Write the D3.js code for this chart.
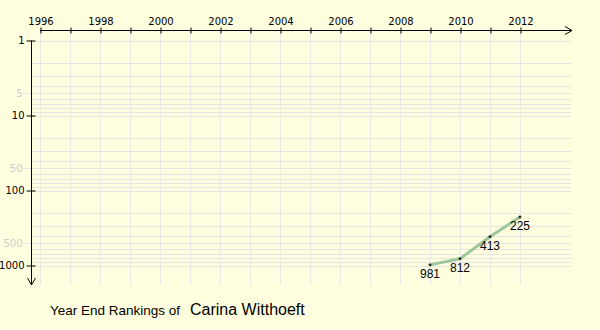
<!DOCTYPE html>
<html><head><meta charset="utf-8">
<script src="https://cdn.jsdelivr.net/npm/d3@7"></script>
<style>
html,body{margin:0;padding:0;background:#ffffe0;}
svg{display:block;}
</style></head>
<body>
<svg id="chart" width="600" height="330"></svg>
<script>
const years = [2009, 2010, 2011, 2012];
const ranks = [981, 812, 413, 225];
const axisYears = d3.range(1996, 2013);
const majorRanks = [1, 10, 100, 1000];
const minorLabelRanks = [5, 50, 500];
const playerName = "Carina Witthoeft";
const titlePrefix = "Year End Rankings of";

const svg = d3.select("#chart");
svg.append("rect").attr("width", 600).attr("height", 330).attr("fill", "#ffffe0");

const x = d3.scaleLinear().domain([1996, 2012]).range([40, 520]);
const y = d3.scaleLog().domain([1, 1000]).range([40.5, 265.5]);

const gridColor = "#e6e4e6";
// horizontal grid
const gridRanks = [];
[1, 10, 100].forEach(b => { for (let m = 1; m <= 9; m++) gridRanks.push(b * m); });
gridRanks.push(1000);
svg.append("g").selectAll("line").data(gridRanks).join("line")
  .attr("x1", d => minorLabelRanks.includes(d) ? 23 : 31)
  .attr("x2", 571)
  .attr("y1", d => Math.round(y(d)) + 0.5)
  .attr("y2", d => Math.round(y(d)) + 0.5)
  .attr("stroke", gridColor).attr("stroke-width", 1);
// vertical grid
svg.append("g").selectAll("line").data(axisYears).join("line")
  .attr("x1", d => x(d) + 0.5).attr("x2", d => x(d) + 0.5)
  .attr("y1", 30).attr("y2", 285)
  .attr("stroke", "#ebe9e6").attr("stroke-width", 1);

// top axis
const topAxis = d3.axisTop(x).tickValues(axisYears)
  .tickFormat(d => d % 2 === 0 ? String(d) : "")
  .tickSizeInner(3).tickSizeOuter(0).tickPadding(4);
const gTop = svg.append("g").attr("transform", "translate(0.5,30.5)").call(topAxis);
gTop.select(".domain").remove();
gTop.selectAll(".tick line").attr("y1", 3).attr("y2", -3).attr("stroke", "#000");
gTop.selectAll(".tick text").attr("font-family", "DejaVu Sans, Verdana, sans-serif")
  .attr("font-size", 10).attr("fill", "#000").attr("dy", 0).attr("y", -6);
svg.append("line").attr("x1", 40).attr("x2", 572).attr("y1", 30.5).attr("y2", 30.5)
  .attr("stroke", "#000").attr("stroke-width", 1);
svg.append("polyline").attr("points", "565,26.5 572,30.5 565,34.5")
  .attr("fill", "none").attr("stroke", "#000");

// left axis
const leftAxis = d3.axisLeft(y).tickValues(majorRanks).tickFormat(d3.format("d"))
  .tickSizeInner(5).tickSizeOuter(0).tickPadding(2);
const gLeft = svg.append("g").attr("transform", "translate(31.5,0)").call(leftAxis);
gLeft.select(".domain").remove();
gLeft.selectAll(".tick line").attr("x1", 4).attr("x2", -5).attr("stroke", "#000");
gLeft.selectAll(".tick text").attr("font-family", "DejaVu Sans, Verdana, sans-serif")
  .attr("font-size", 10).attr("fill", "#000").attr("x", -7);
const gMinor = svg.append("g").attr("transform", "translate(31.5,0)").call(
  d3.axisLeft(y).tickValues(minorLabelRanks).tickFormat(d3.format("d")).tickSize(0).tickPadding(9));
gMinor.select(".domain").remove();
gMinor.selectAll(".tick text").attr("font-family", "DejaVu Sans, Verdana, sans-serif")
  .attr("font-size", 10).attr("fill", "#cccccc");
svg.append("line").attr("x1", 31.5).attr("x2", 31.5).attr("y1", 40.5).attr("y2", 285)
  .attr("stroke", "#000");
svg.append("polyline").attr("points", "27.5,278 31.5,285 35.5,278")
  .attr("fill", "none").attr("stroke", "#000");

// data line
const pts = years.map((yr, i) => [yr, ranks[i]]);
svg.append("path").datum(pts)
  .attr("d", d3.line().x(d => x(d[0])).y(d => y(d[1])))
  .attr("fill", "none").attr("stroke", "#9cc89c").attr("stroke-width", 3)
  .attr("stroke-linejoin", "round");
const ptG = svg.append("g").selectAll("g").data(pts).join("g")
  .attr("transform", d => `translate(${x(d[0])},${y(d[1])})`);
ptG.append("path").attr("d", "M-1.5,0H1.5M0,-1.5V1.5").attr("stroke", "#000").attr("stroke-width", 1);
ptG.append("text").text(d => d[1]).attr("text-anchor", "middle").attr("y", 13)
  .attr("font-family", "Liberation Sans, Arial, sans-serif").attr("font-size", 12).attr("fill", "#000");

// title
svg.append("text").attr("x", 50).attr("y", 315).attr("font-family", "Liberation Sans, Arial, sans-serif")
  .attr("font-size", 13.5).attr("fill", "#000").text(titlePrefix);
svg.append("text").attr("x", 190).attr("y", 315).attr("font-family", "Liberation Sans, Arial, sans-serif")
  .attr("font-size", 16).attr("fill", "#000").text(playerName);
</script>
</body></html>
